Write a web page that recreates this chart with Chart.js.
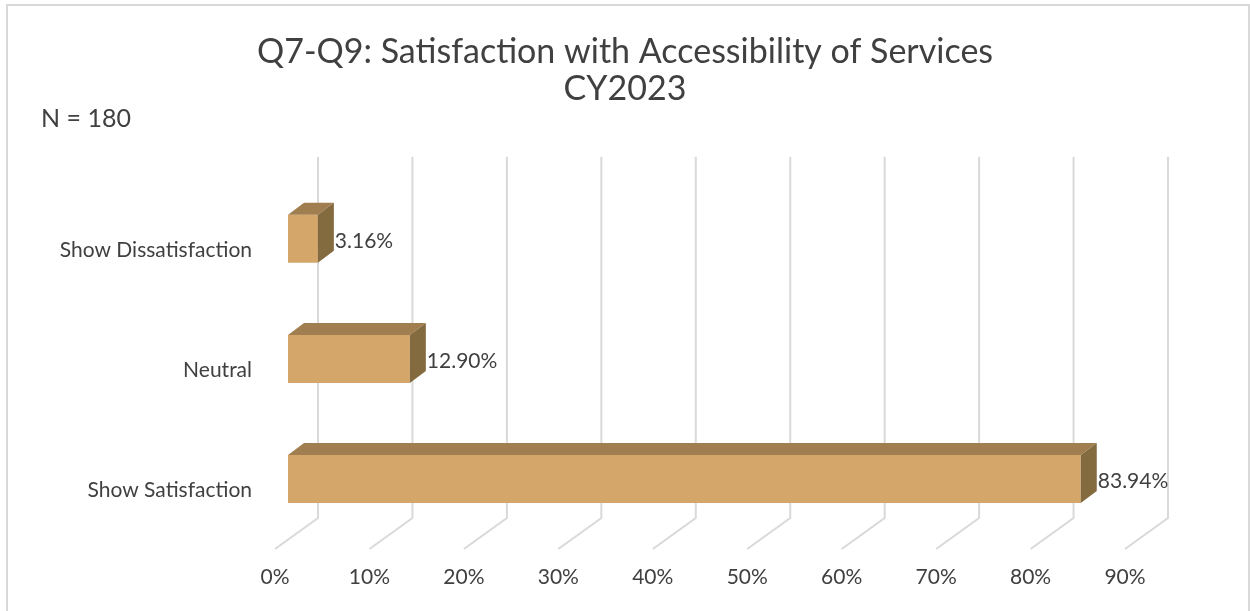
<!DOCTYPE html>
<html lang="en">
<head>
    <meta charset="UTF-8">
    <title>Q7-Q9: Satisfaction with Accessibility of Services</title>
    <script src="https://cdn.jsdelivr.net/npm/chart.js"></script>
    <style>
        html, body {
            margin: 0;
            padding: 0;
            background: #ffffff;
            overflow: hidden;
        }
        #wrap {
            position: relative;
            width: 1250px;
            height: 611px;
        }
        #frame {
            position: absolute;
            left: 6px;
            top: 4px;
            width: 1244px;
            height: 700px;
            border: 2px solid #d9d9d9;
            box-sizing: border-box;
            pointer-events: none;
        }
    </style>
</head>
<body>
<div id="wrap">
    <canvas id="accessChart"></canvas>
    <div id="frame"></div>
</div>
<script>
    // chart data
    const categories = ['Show Dissatisfaction', 'Neutral', 'Show Satisfaction'];
    const percentages = [3.16, 12.90, 83.94];
    const tickValues = [0, 10, 20, 30, 40, 50, 60, 70, 80, 90];
    const titleLines = ['Q7-Q9: Satisfaction with Accessibility of Services', 'CY2023'];
    const sampleNote = 'N = 180';

    const textColor = '#404040';
    const fontFamily = 'Lato, "Open Sans", sans-serif';

    // depth of the fake 3D look
    const barDepth = { dx: 16, dy: -12 };

    // back wall gridlines + floor diagonals
    const wallGrid = {
        id: 'wallGrid',
        beforeDatasetsDraw(chart) {
            const { ctx, chartArea, scales: { x } } = chart;
            ctx.save();
            ctx.strokeStyle = '#d9d9d9';
            ctx.lineWidth = 2;
            tickValues.forEach(v => {
                const px = x.getPixelForValue(v);
                ctx.beginPath();
                ctx.moveTo(px + 30, chartArea.top - 22);
                ctx.lineTo(px + 30, chartArea.bottom - 21);
                ctx.lineTo(px - 13, chartArea.bottom + 10);
                ctx.stroke();
            });
            ctx.restore();
        }
    };

    // top + side faces of the bars, and the value labels
    const barFaces = {
        id: 'barFaces',
        afterDatasetsDraw(chart) {
            const { ctx } = chart;
            const meta = chart.getDatasetMeta(0);
            ctx.save();
            meta.data.forEach((bar, i) => {
                const top = bar.y - bar.height / 2;
                const bottom = bar.y + bar.height / 2;
                const left = bar.base;
                const right = bar.x;

                ctx.fillStyle = '#a07e4f';
                ctx.beginPath();
                ctx.moveTo(left, top);
                ctx.lineTo(left + barDepth.dx, top + barDepth.dy);
                ctx.lineTo(right + barDepth.dx, top + barDepth.dy);
                ctx.lineTo(right, top);
                ctx.closePath();
                ctx.fill();

                ctx.fillStyle = '#846a3f';
                ctx.beginPath();
                ctx.moveTo(right, top);
                ctx.lineTo(right + barDepth.dx, top + barDepth.dy);
                ctx.lineTo(right + barDepth.dx, bottom + barDepth.dy);
                ctx.lineTo(right, bottom);
                ctx.closePath();
                ctx.fill();

                ctx.fillStyle = textColor;
                ctx.font = '21px ' + fontFamily;
                ctx.textAlign = 'left';
                ctx.textBaseline = 'middle';
                ctx.fillText(percentages[i].toFixed(2) + '%', right + 17, bar.y + 2);
            });
            ctx.restore();
        }
    };

    // "N = 180" note in the top-left corner
    const sampleSize = {
        id: 'sampleSize',
        afterDraw(chart) {
            const { ctx } = chart;
            ctx.save();
            ctx.fillStyle = textColor;
            ctx.font = '25px ' + fontFamily;
            ctx.textAlign = 'left';
            ctx.textBaseline = 'middle';
            ctx.fillText(sampleNote, 41, 119);
            ctx.restore();
        }
    };

    const ctx = document.getElementById('accessChart').getContext('2d');
    new Chart(ctx, {
        type: 'bar',
        data: {
            labels: categories,
            datasets: [{
                data: percentages,
                backgroundColor: '#d4a66a',
                borderWidth: 0,
                categoryPercentage: 0.8,
                barPercentage: 0.5
            }]
        },
        options: {
            indexAxis: 'y',
            responsive: true,
            maintainAspectRatio: false,
            animation: false,
            layout: {
                padding: 0
            },
            plugins: {
                legend: { display: false },
                tooltip: { enabled: false },
                title: {
                    display: true,
                    text: titleLines,
                    color: textColor,
                    font: { family: fontFamily, size: 34, weight: 'normal', lineHeight: 1.1 },
                    padding: { top: 33, bottom: 71 }
                }
            },
            scales: {
                x: {
                    min: 0,
                    max: 90,
                    grid: { display: false, drawTicks: false },
                    border: { display: false },
                    ticks: {
                        stepSize: 10,
                        autoSkip: false,
                        maxRotation: 0,
                        padding: 26,
                        labelOffset: -13,
                        color: textColor,
                        font: { family: fontFamily, size: 21 },
                        callback: v => v + '%'
                    },
                    afterFit(scale) { scale.height = 72; }
                },
                y: {
                    grid: { display: false, drawTicks: false },
                    border: { display: false },
                    ticks: {
                        padding: 36,
                        labelOffset: 11,
                        color: textColor,
                        font: { family: fontFamily, size: 21 }
                    },
                    afterFit(scale) { scale.width = 288; }
                },
                // empty right-hand axis, only reserves room so the title stays centred
                yRight: {
                    type: 'category',
                    position: 'right',
                    grid: { display: false, drawTicks: false },
                    border: { display: false },
                    ticks: { display: false },
                    afterFit(scale) { scale.width = 112; }
                }
            }
        },
        plugins: [wallGrid, barFaces, sampleSize]
    });
</script>
</body>
</html>
